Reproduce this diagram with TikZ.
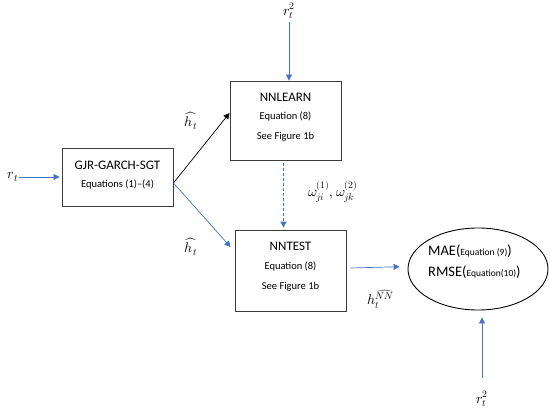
\documentclass[tikz,border=0pt]{standalone}
\usepackage{fontspec}
\usepackage{unicode-math}
\setmainfont{Carlito}
\setmathfont{Latin Modern Math}
\usetikzlibrary{arrows.meta,shapes.geometric}
\definecolor{ablue}{RGB}{68,114,196}
\definecolor{boxline}{RGB}{60,60,60}
\begin{document}
\begin{tikzpicture}[x=1pt,y=-1pt,
  box/.style={draw=boxline,line width=0.9pt,minimum width=111pt,inner sep=0pt},
  ttl/.style={font=\fontsize{13}{15}\selectfont,inner sep=0pt},
  sub/.style={font=\fontsize{10.5}{12}\selectfont,inner sep=0pt},
  lbl/.style={font=\fontsize{14}{16}\selectfont,inner sep=1pt},
  barr/.style={ablue,line width=0.7pt,-{Triangle[length=6pt,width=6pt]}},
  karr/.style={black,line width=0.7pt,-{Triangle[length=6pt,width=6pt]}}]
\useasboundingbox (0,0) rectangle (550,414);
% boxes
\node[box,minimum height=58pt] (gjr) at (117.5,177) {};
\node[ttl] (gjrT) at (117.5,165) {GJR-GARCH-SGT};
\node[sub] (gjrS) at (117.5,185) {Equations (1)--(4)};
\node[box,minimum height=79pt] (nnl) at (285.5,120.5) {};
\node[ttl] (nnlT) at (285.5,97) {NNLEARN};
\node[sub] (nnlS) at (285.5,117) {Equation (8)};
\node[sub] (nnlF) at (285.5,137) {See Figure 1b};
\node[box,minimum height=81pt] (nnt) at (290.5,270.5) {};
\node[ttl] (nntT) at (290.5,246) {NNTEST};
\node[sub] (nntS) at (290.5,267) {Equation (8)};
\node[sub] (nntF) at (290.5,287) {See Figure 1b};
\node[draw=black,line width=0.9pt,ellipse,minimum width=140pt,minimum height=82pt,inner sep=0pt] (ell) at (478,269) {};
\node[align=left,inner sep=0pt,font=\fontsize{14.5}{21}\selectfont,anchor=west] (ellT) at (428,262)
  {MAE({\fontsize{9.5}{10}\selectfont Equation (9)})\\RMSE({\fontsize{9.5}{10}\selectfont Equation(10)})};
% labels
\node[lbl] (rt) at (13,177) {$r_t$};
\node[lbl] (rt2a) at (289,11) {$r_t^2$};
\node[lbl] (rt2b) at (482,399) {$r_t^2$};
\node[lbl] (h1) at (191,121) {$\widehat{h_t}$};
\node[lbl] (h2) at (191,247) {$\widehat{h_t}$};
\node[lbl] (hnn) at (381,299) {$h_t^{\widehat{NN}}$};
\node[lbl] (om) at (333,192) {$\omega_{ji}^{(1)},\omega_{jk}^{(2)}$};
% connectors
\coordinate (gjrout) at ([yshift=-6pt]gjr.east);
\draw[barr,shorten >=2pt] (rt.east) -- (gjr.west);
\draw[karr] (gjrout) -- ([yshift=7.5pt]nnl.west);
\draw[barr] (gjrout) -- ([yshift=23.5pt,xshift=-4pt]nnt.west);
\draw[barr,shorten <=2pt] (rt2a.south) -- (nnl.north -| rt2a.south);
\draw[barr,line width=1pt,dash pattern=on 3pt off 2pt,shorten <=3pt,shorten >=2pt] ([xshift=-2pt]nnl.south) -- ([xshift=-7pt]nnt.north);
\draw[barr,shorten >=8pt] ([xshift=4pt,yshift=2.5pt]nnt.east) -- ([yshift=2.5pt]ell.west);
\draw[barr,shorten <=12pt,shorten >=7pt] (rt2b.north) -- (ell.south -| rt2b.north);
\end{tikzpicture}
\end{document}
